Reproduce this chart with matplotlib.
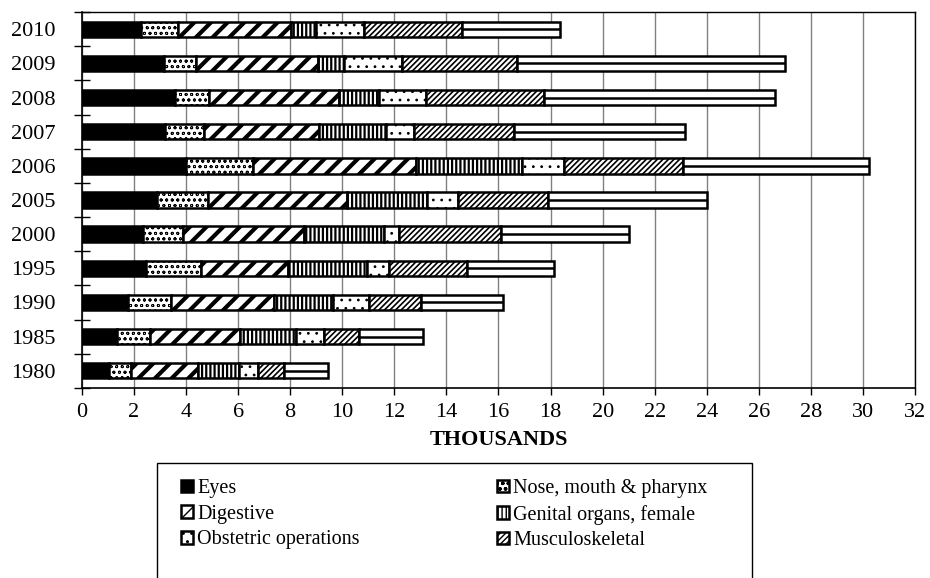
#!/usr/bin/env python3
"""Stacked horizontal bars of procedures by body system, 1980-2010 (thousands)."""

import matplotlib

matplotlib.use("Agg")
import matplotlib.pyplot as plt
import numpy as np
from matplotlib.patches import Rectangle

years = ["1980", "1985", "1990", "1995", "2000", "2005", "2006", "2007", "2008", "2009", "2010"]

eyes = [1.05, 1.35, 1.78, 2.45, 2.35, 2.89, 4.01, 3.21, 3.56, 3.15, 2.29]
nose = [0.85, 1.28, 1.66, 2.11, 1.53, 1.95, 2.55, 1.50, 1.34, 1.24, 1.40]
digestive = [2.56, 3.45, 3.95, 3.37, 4.66, 5.36, 6.26, 4.41, 4.99, 4.66, 4.34]
genital = [1.59, 2.14, 2.24, 3.04, 3.07, 3.07, 4.09, 2.55, 1.53, 1.03, 0.96]
obstetric = [0.71, 1.09, 1.40, 0.83, 0.57, 1.19, 1.60, 1.09, 1.79, 2.23, 1.85]
musculo = [1.02, 1.34, 1.98, 3.00, 3.90, 3.44, 4.59, 3.83, 4.53, 4.41, 3.74]
other = [1.68, 2.47, 3.16, 3.32, 4.95, 6.10, 7.12, 6.58, 8.88, 10.30, 3.80]

series = [
    ("Eyes", eyes, "black", None, 1.0),
    ("Nose, mouth & pharynx", nose, "white", "ooo", 0.6),
    ("Digestive", digestive, "white", "//", 3.0),
    ("Genital organs, female", genital, "white", "||||", 1.6),
    ("Obstetric operations", obstetric, "white", "..", 0.8),
    ("Musculoskeletal", musculo, "white", "//////", 1.2),
    ("Other", other, "white", None, 1.0),
]

plt.rcParams["font.family"] = ["Liberation Serif", "DejaVu Serif"]

fig = plt.figure(figsize=(9.3, 5.78), dpi=100)
ax = fig.add_axes([0.088, 0.329, 0.896, 0.650])

y = np.arange(len(years))
bar_h = 0.45
left = np.zeros(len(years))
handles = {}
for name, vals, face, hatch, hlw in series:
    vals = np.array(vals)
    plt.rcParams["hatch.linewidth"] = hlw
    bars = ax.barh(y, vals, height=bar_h, left=left, color=face,
                   edgecolor="black", linewidth=1.8, hatch=hatch, label=name, zorder=3)
    for p in bars:
        if hasattr(p, "set_hatch_linewidth"):
            p.set_hatch_linewidth(hlw)
    if name == "Other":
        ax.hlines(y, left, left + vals, color="black", linewidth=1.8, zorder=4)
    handles[name] = bars
    left = left + vals

ax.set_xlim(0, 32)
ax.set_ylim(-0.5, len(years) - 0.5)
ax.set_xticks(np.arange(0, 33, 2))
ax.tick_params(axis="x", direction="out", length=5, width=1, labelsize=16, pad=6)
ax.grid(axis="x", color="#808080", linewidth=1, zorder=0)

ax.set_yticks(np.arange(-0.5, len(years), 1.0))
ax.set_yticklabels([])
ax.tick_params(axis="y", which="major", direction="inout", length=12, width=1)
ax.set_yticks(y, minor=True)
ax.set_yticklabels(years, minor=True)
ax.tick_params(axis="y", which="minor", length=0, labelsize=16, pad=19)

for side in ["left", "bottom"]:
    ax.spines[side].set_linewidth(1.2)
for side in ["top", "right"]:
    ax.spines[side].set_linewidth(1.0)

ax.set_xlabel("THOUSANDS", fontsize=16, fontweight="bold", labelpad=6)

order = ["Eyes", "Digestive", "Obstetric operations",
         "Nose, mouth & pharynx", "Genital organs, female", "Musculoskeletal"]
leg = fig.legend([handles[n] for n in order], order, ncol=2, loc="upper left",
                 bbox_to_anchor=(0.195, 1 - 479 / 578), frameon=False,
                 fontsize=14.5, handlelength=0.6, handleheight=0.6,
                 handletextpad=0.2, columnspacing=6.8, labelspacing=0.33,
                 borderpad=0.0, borderaxespad=0.0)

fig.patches.append(Rectangle((157 / 930, -0.05), (752 - 157) / 930, 0.05 + 1 - 463 / 578,
                             transform=fig.transFigure, fill=False,
                             edgecolor="black", linewidth=1.0))

fig.savefig("out.png", dpi=100)
plt.close(fig)
